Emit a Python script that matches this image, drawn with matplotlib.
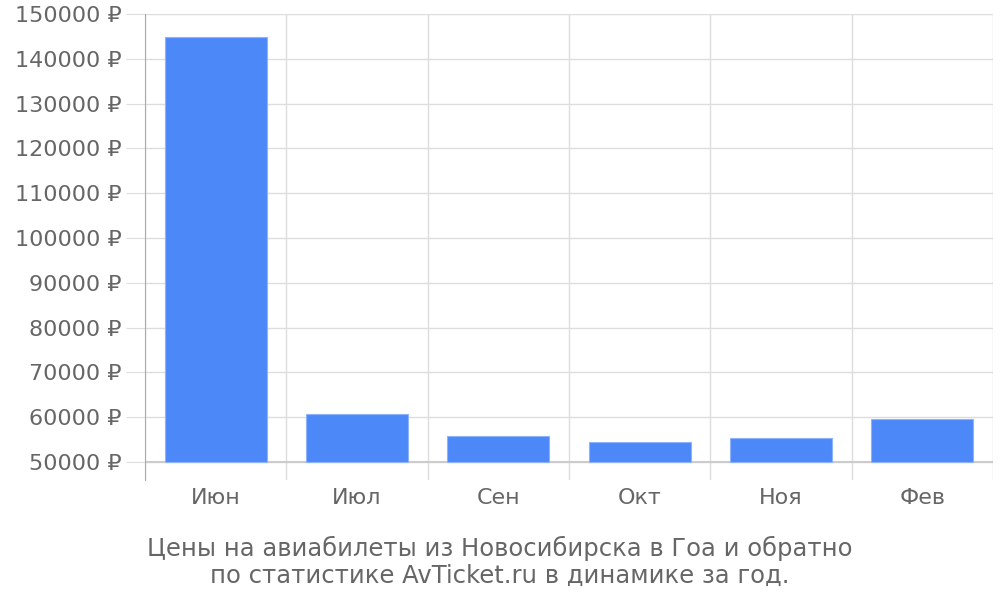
import matplotlib.pyplot as plt

# months and average ticket prices (rubles)
months = ['Июн', 'Июл', 'Сен', 'Окт', 'Ноя', 'Фев']
prices = [144900, 60700, 55800, 54400, 55300, 59600]
y_ticks = list(range(50000, 150001, 10000))
base = 50000

fig = plt.figure(figsize=(10, 6), dpi=100)
ax = fig.add_axes([0.145, 0.2, 0.848, 0.7767])

pos = [i + 0.5 for i in range(len(months))]
ax.bar(pos, [p - base for p in prices], bottom=base, width=0.72,
       color='#4d88f9', edgecolor='#8fb3fb', linewidth=0.8, zorder=3)

ax.set_xlim(0, len(months))
ax.set_ylim(46000, 150000)

# grid
ax.set_yticks(y_ticks)
ax.set_yticklabels(['%d ₽' % v for v in y_ticks])
ax.set_xticks(range(len(months) + 1), minor=False)
ax.set_xticklabels([])
ax.set_xticks(pos, minor=True)
ax.set_xticklabels(months, minor=True)
ax.grid(axis='both', color='#dddddd', linewidth=1, zorder=0)
ax.axhline(base, color='#cccccc', linewidth=1.5, zorder=2)

ax.tick_params(axis='y', length=14, color='#dddddd', labelsize=16,
               labelcolor='#666666', pad=3)
ax.tick_params(axis='x', which='major', length=0)
ax.tick_params(axis='x', which='minor', length=0, labelsize=16,
               labelcolor='#666666', pad=6)

for s in ['top', 'right', 'bottom']:
    ax.spines[s].set_visible(False)
ax.spines['left'].set_color('#aaaaaa')

fig.text(0.5, 0.064, 'Цены на авиабилеты из Новосибирска в Гоа и обратно\n'
         'по статистике AvTicket.ru в динамике за год.',
         ha='center', va='center', fontsize=17.5, color='#666666',
         linespacing=1.15)

fig.savefig('out.png')
